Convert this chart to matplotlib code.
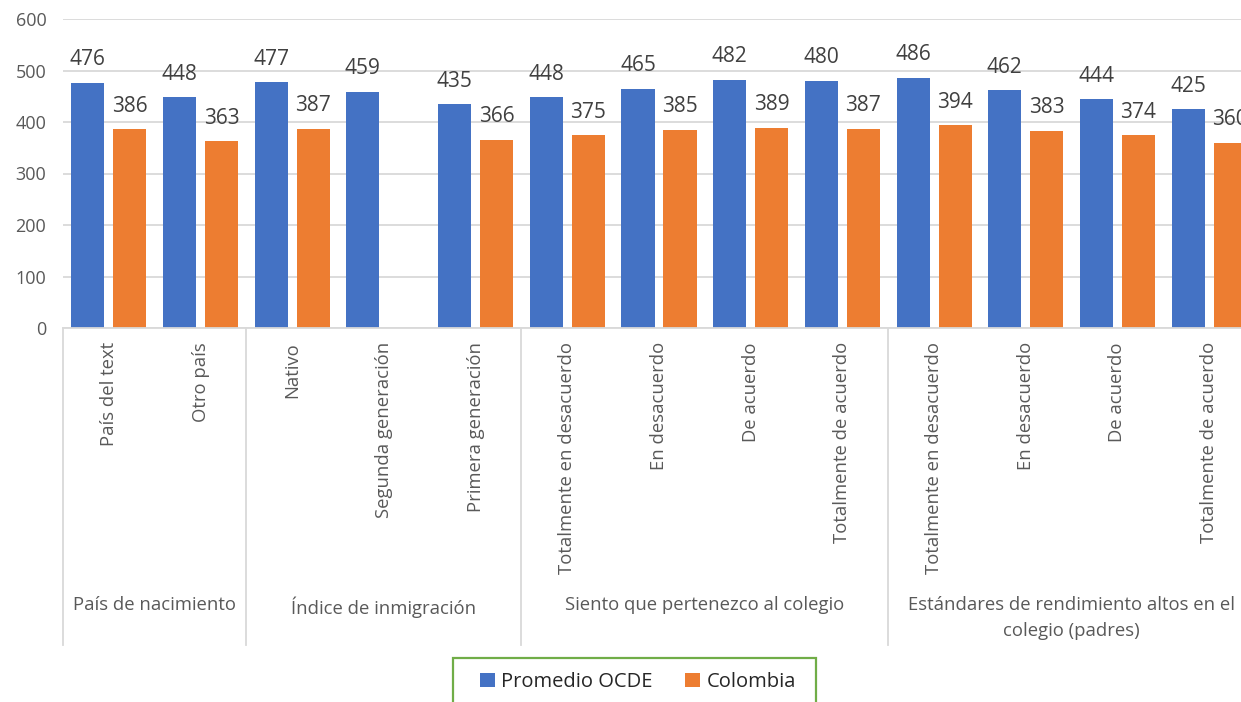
import numpy as np
import matplotlib.pyplot as plt
from matplotlib.patches import Rectangle
import matplotlib.transforms as mtransforms

plt.rcParams['font.family'] = ['Open Sans', 'DejaVu Sans']

categories = ["País del text", "Otro país",
              "Nativo", "Segunda generación", "Primera generación",
              "Totalmente en desacuerdo", "En desacuerdo", "De acuerdo", "Totalmente de acuerdo",
              "Totalmente en desacuerdo", "En desacuerdo", "De acuerdo", "Totalmente de acuerdo"]
groups = ["País de nacimiento", "Índice de inmigración",
          "Siento que pertenezco al colegio",
          "Estándares de rendimiento altos en el\ncolegio (padres)"]
group_sizes = [2, 3, 4, 4]
ocde = [476, 448, 477, 459, 435, 448, 465, 482, 480, 486, 462, 444, 425]
colombia = [386, 363, 387, np.nan, 366, 375, 385, 389, 387, 394, 383, 374, 360]
series_names = ["Promedio OCDE", "Colombia"]
yticks = [0, 100, 200, 300, 400, 500, 600]

BLUE = "#4472C4"
ORANGE = "#ED7D31"
GRAY = "#595959"
GRID = "#D9D9D9"

W, H = 1241, 702
fig = plt.figure(figsize=(W / 100, H / 100), dpi=100)

# plot area in pixel terms (extends slightly past the right edge)
left_px, right_px, top_px, bottom_px = 63, 1255, 19, 328
ax = fig.add_axes([left_px / W, 1 - bottom_px / H,
                   (right_px - left_px) / W, (bottom_px - top_px) / H])

x = np.arange(len(categories))
bw = 0.36
off = 0.229
b1 = ax.bar(x - off, ocde, width=bw, color=BLUE, label=series_names[0], zorder=3)
b2 = ax.bar(x + off, colombia, width=bw, color=ORANGE, label=series_names[1], zorder=3)

for bars, vals in ((b1, ocde), (b2, colombia)):
    for rect, v in zip(bars, vals):
        if np.isnan(v):
            continue
        ax.annotate(f"{v:.0f}", (rect.get_x() + rect.get_width() / 2, v),
                    xytext=(0, 12.5), textcoords="offset points",
                    ha="center", va="baseline", fontsize=15, color="#404040",
                    zorder=4)

ax.set_xlim(-0.5, len(categories) - 0.5)
ax.set_ylim(0, 600)
ax.set_yticks(yticks)
ax.tick_params(axis="y", length=0, pad=12, labelsize=13, labelcolor=GRAY)
ax.set_xticks([])
ax.yaxis.grid(True, color=GRID, linewidth=1.3, zorder=0)
for s in ("top", "right", "left"):
    ax.spines[s].set_visible(False)
ax.spines["bottom"].set_color(GRID)
ax.spines["bottom"].set_linewidth(1.3)
ax.spines["bottom"].set_zorder(5)

trans = mtransforms.blended_transform_factory(ax.transData, ax.transAxes)
px_to_axes = 1.0 / (bottom_px - top_px)

# category labels (rotated)
for xi, lab in zip(x, categories):
    ax.text(xi, -14 * px_to_axes, lab, transform=trans, rotation=90,
            ha="center", va="top", fontsize=13.3, color=GRAY)

# group labels and separators
start = 0
seps = [-0.5]
for g, n in zip(groups, group_sizes):
    center = start + (n - 1) / 2
    ax.text(center, -(596 - bottom_px) * px_to_axes, g, transform=trans,
            ha="center", va="top", fontsize=13.3, color=GRAY,
            linespacing=1.55, multialignment="center")
    start += n
    seps.append(start - 0.5)
for sx in seps:
    ax.plot([sx, sx], [0, -(645 - bottom_px) * px_to_axes], transform=trans,
            color=GRID, linewidth=1.3, clip_on=False)

# legend with green frame
leg = fig.legend(handles=[b1, b2], labels=series_names, loc="center",
                 bbox_to_anchor=(638 / W, 1 - 682 / H), ncol=2, frameon=False,
                 fontsize=14.5, handlelength=0.75, handleheight=0.75,
                 handletextpad=0.3, columnspacing=1.6)
for t in leg.get_texts():
    t.set_color("#262626")
fig.patches.append(Rectangle((453 / W, -0.05), (816 - 453) / W, 0.05 + 1 - 658 / H,
                             transform=fig.transFigure, fill=False,
                             edgecolor="#70AD47", linewidth=1.6))

fig.savefig("out.png", dpi=100)
